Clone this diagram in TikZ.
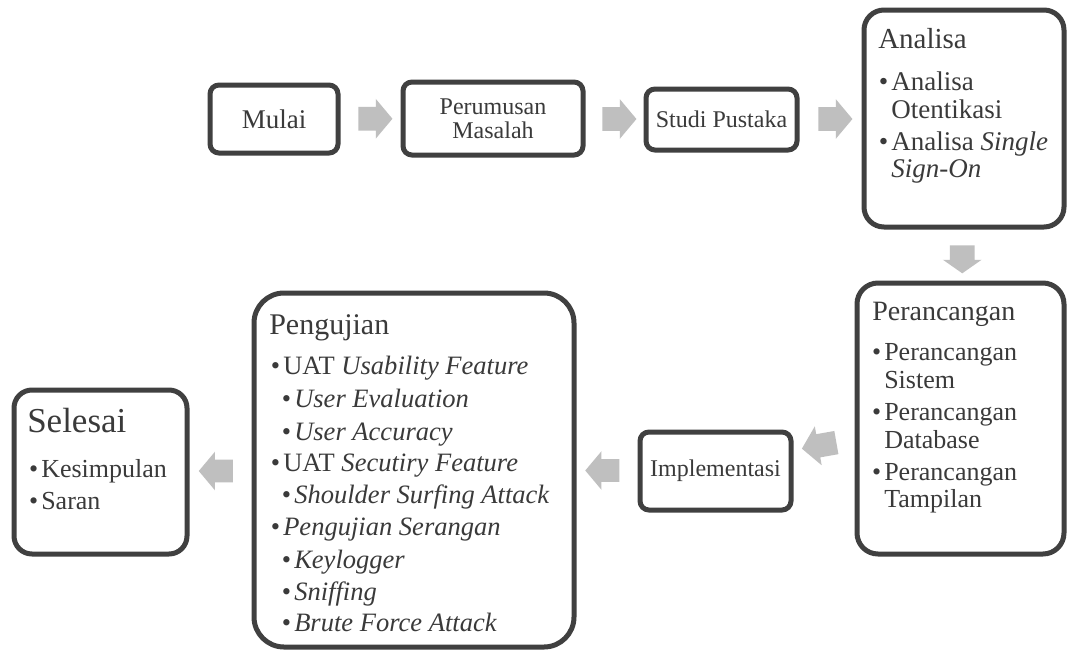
\documentclass[tikz,border=0pt]{standalone}
\usepackage{fontspec}
\setmainfont{Liberation Serif}
\usetikzlibrary{shapes.arrows,calc}
\newlength\pxu \setlength\pxu{0.75pt}
\definecolor{boxc}{HTML}{404040}
\definecolor{arrc}{HTML}{BFBFBF}
\definecolor{txtc}{HTML}{3A3A3A}
\newcommand\bl{\llap{•\hspace{3\pxu}}}
\begin{document}
\begin{tikzpicture}[x=0.75pt,y=-0.75pt,
  box/.style={draw=boxc, line width=5\pxu, fill=white, inner sep=0pt, text=txtc, align=center},
  blockarrow/.style={single arrow, fill=arrc, draw=none, inner xsep=0pt, inner ysep=11.5\pxu,
     minimum height=34\pxu,
     single arrow head extend=8\pxu, single arrow tip angle=100},
  ln/.style={anchor=base west, inner sep=0pt, text=txtc},
  fsm/.style={font=\fontsize{18}{18}\selectfont},
  fhA/.style={font=\fontsize{21.75}{24}\selectfont},
  fiA/.style={font=\fontsize{20.25}{22}\selectfont},
  fhB/.style={font=\fontsize{21}{24}\selectfont},
  fiB/.style={font=\fontsize{19.5}{22}\selectfont},
  fiC/.style={font=\fontsize{19.9}{22}\selectfont},
  fhC/.style={font=\fontsize{22.5}{25}\selectfont},
  fhD/.style={font=\fontsize{26.25}{28}\selectfont},
]
\useasboundingbox (0,0) rectangle (1068,651);
\fill[white] (0,0) rectangle (1068,651);

% boxes
\node[box, minimum width=128\pxu, minimum height=68\pxu, rounded corners=9\pxu, font=\fontsize{20.25}{22}\selectfont] (mulai) at (274,119) {Mulai};
\node[box, fsm, minimum width=180\pxu, minimum height=73\pxu, rounded corners=9\pxu] (perumusan) at (493,118.5) {Perumusan\\Masalah};
\node[box, fsm, minimum width=151\pxu, minimum height=61\pxu, rounded corners=9\pxu] (studi) at (721.5,119.5) {Studi Pustaka};
\node[box, minimum width=200\pxu, minimum height=217\pxu, rounded corners=20\pxu] (analisa) at (964,118.5) {};
\node[box, minimum width=207\pxu, minimum height=271\pxu, rounded corners=21\pxu] (perancangan) at (960.5,418.5) {};
\node[box, fsm, minimum width=151\pxu, minimum height=78\pxu, rounded corners=9\pxu] (implementasi) at (715.5,471) {Implementasi};
\node[box, minimum width=320\pxu, minimum height=354\pxu, rounded corners=30\pxu] (pengujian) at (414,470) {};
\node[box, minimum width=173\pxu, minimum height=164\pxu, rounded corners=18\pxu] (selesai) at (100.5,472) {};

% arrows
\node[blockarrow] (a1) at ($(mulai.east)!0.5!(perumusan.west)$) {};
\node[blockarrow] (a2) at ($(perumusan.east)!0.5!(studi.west)$) {};
\node[blockarrow] (a3) at ($(studi.east)!0.5!(analisa.west)$) {};
\node[blockarrow, rotate=-90, minimum height=28\pxu, inner ysep=12\pxu, single arrow head extend=7\pxu, single arrow tip angle=110] (a4) at ($(analisa.south)!0.5!(perancangan.north)$) {};
\node[blockarrow, rotate=190, minimum height=35\pxu] (a5) at ($(perancangan.west)!0.5!(implementasi.east)$) {};
\node[blockarrow, rotate=180, inner ysep=11\pxu] (a6) at ($(implementasi.west)!0.5!(pengujian.east)$) {};
\node[blockarrow, rotate=180, inner ysep=11\pxu] (a7) at ($(pengujian.west)!0.5!(selesai.east)$) {};

% Analisa text
\node[ln, fhA] (an-h) at (878,48) {Analisa};
\node[ln, fiA] (an-1) at (891,90) {\bl Analisa};
\node[ln, fiA] (an-1b) at (891,118) {Otentikasi};
\node[ln, fiA] (an-2) at (891,150) {\bl Analisa \textit{Single}};
\node[ln, fiA] (an-2b) at (891,177) {\textit{Sign-On}};

% Perancangan text
\node[ln, fhB] (pr-h) at (872,320) {Perancangan};
\node[ln, fiB] (pr-1) at (884,360) {\bl Perancangan};
\node[ln, fiB] (pr-1b) at (884,388) {Sistem};
\node[ln, fiB] (pr-2) at (884,420) {\bl Perancangan};
\node[ln, fiB] (pr-2b) at (884,448) {Database};
\node[ln, fiB] (pr-3) at (884,480) {\bl Perancangan};
\node[ln, fiB] (pr-3b) at (884,507) {Tampilan};

% Pengujian text
\node[ln, fhC] (pg-h) at (269,334) {Pengujian};
\node[ln, fiC] (pg-1) at (283,374) {\bl UAT \textit{Usability Feature}};
\node[ln, fiC] (pg-2) at (294,407) {\bl\textit{User Evaluation}};
\node[ln, fiC] (pg-3) at (294,440) {\bl\textit{User Accuracy}};
\node[ln, fiC] (pg-4) at (283,471) {\bl UAT \textit{Secutiry Feature}};
\node[ln, fiC] (pg-5) at (294,503) {\bl\textit{Shoulder Surfing Attack}};
\node[ln, fiC] (pg-6) at (283,535) {\bl\textit{Pengujian Serangan}};
\node[ln, fiC] (pg-7) at (294,568) {\bl\textit{Keylogger}};
\node[ln, fiC] (pg-8) at (294,600) {\bl\textit{Sniffing}};
\node[ln, fiC] (pg-9) at (294,631) {\bl\textit{Brute Force Attack}};

% Selesai text
\node[ln, fhD] (se-h) at (27,432) {Selesai};
\node[ln, fiB] (se-1) at (41,477) {\bl Kesimpulan};
\node[ln, fiB] (se-2) at (41,509) {\bl Saran};
\end{tikzpicture}
\end{document}
